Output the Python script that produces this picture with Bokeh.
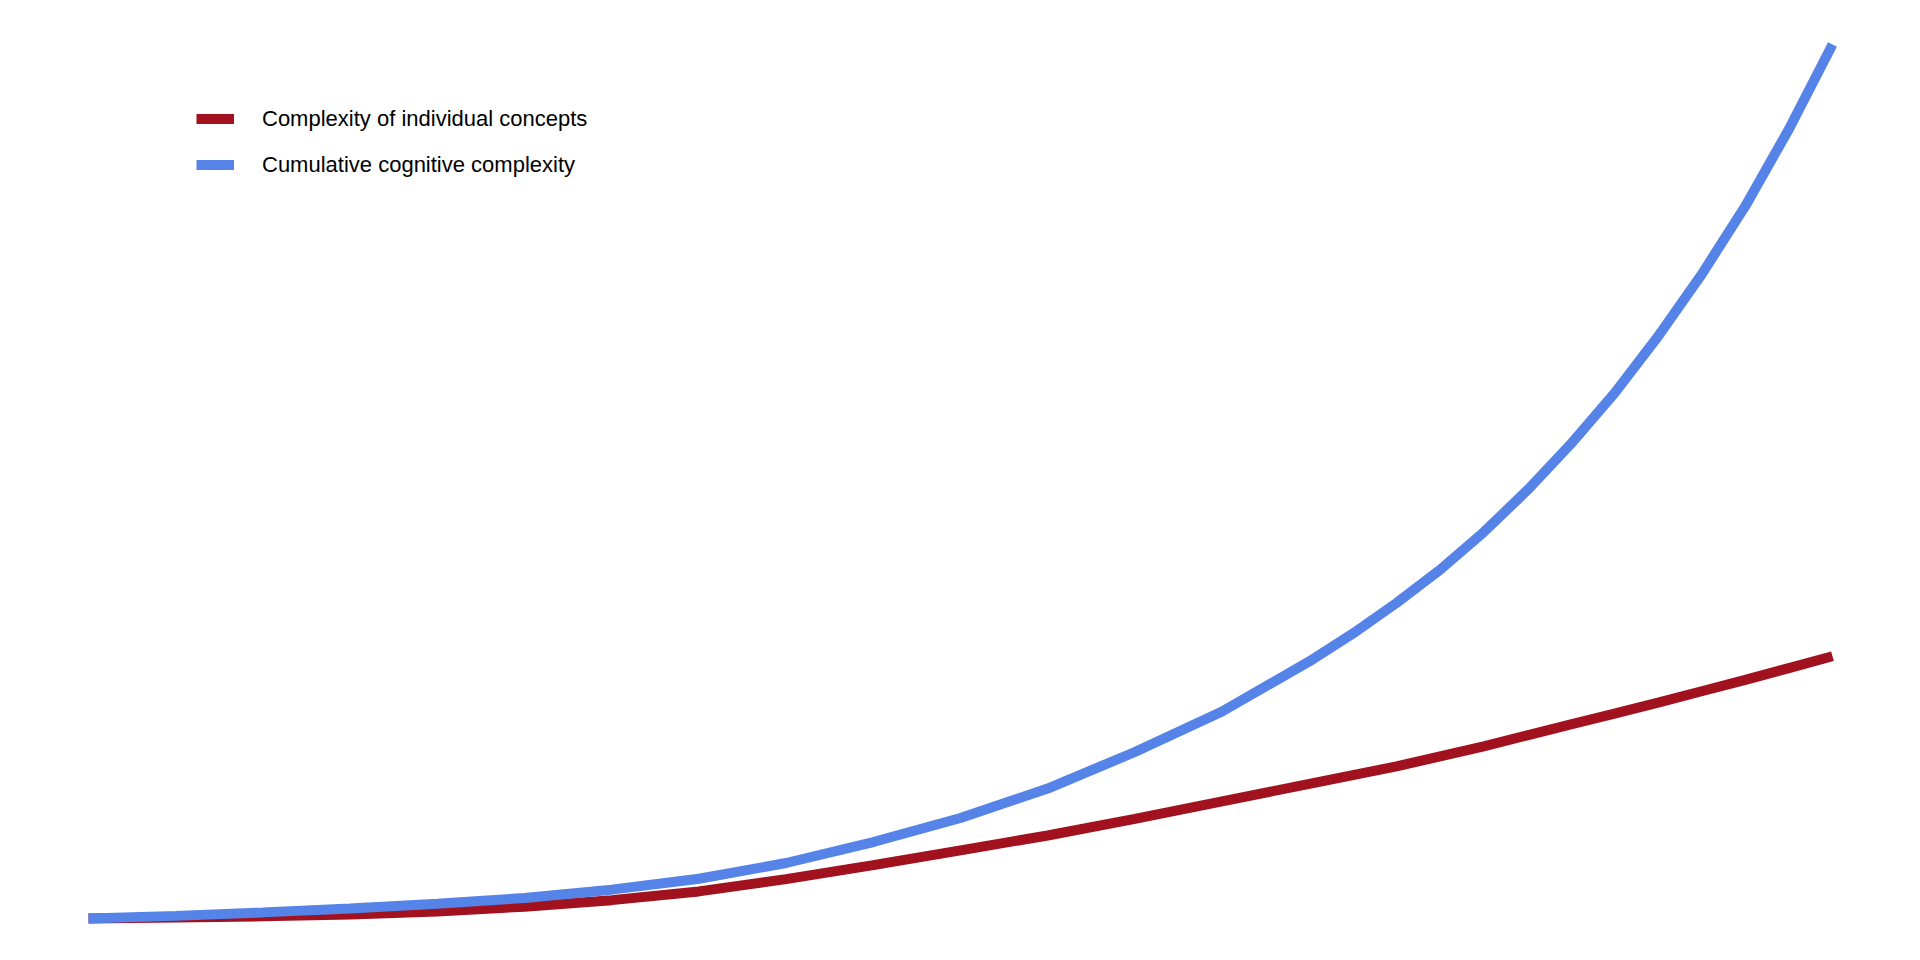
from bokeh.plotting import figure
from bokeh.models import Range1d, Legend, LegendItem
from bokeh.embed import file_html
from bokeh.resources import INLINE

# Progress through the material (0..100) and complexity (0..100, final cumulative = 100)
progress = [0, 5, 10, 15, 20, 25, 30, 35, 40, 45, 50, 55, 60, 65, 70,
            72.5, 75, 77.5, 80, 82.5, 85, 87.5, 90, 92.5, 95, 97.5, 100]
cumulative = [0, 0.3, 0.7, 1.15, 1.7, 2.35, 3.3, 4.55, 6.35, 8.75, 11.5, 14.87, 19.05, 23.68, 29.41,
              32.6, 36.1, 39.9, 44.2, 49.0, 54.3, 60.1, 66.6, 73.7, 81.5, 90.3, 100]
individual = [0, 0.1, 0.25, 0.45, 0.8, 1.35, 2.1, 3.1, 4.5, 6.1, 7.8, 9.5, 11.4, 13.4, 15.4,
              16.4, 17.4, 18.55, 19.7, 20.95, 22.2, 23.45, 24.7, 26.0, 27.3, 28.65, 30.0]

labels = ["Complexity of individual concepts", "Cumulative cognitive complexity"]
colors = ["#a1111e", "#5683e8"]

W, H = 1904, 944
p = figure(width=W, height=H, output_backend="svg", toolbar_location=None,
           min_border=0, x_range=Range1d(-5.046, 104.13),
           y_range=Range1d(-2.975, 105.03))
p.axis.visible = False
p.grid.visible = False
p.outline_line_color = None
p.background_fill_color = "white"
p.border_fill_color = "white"

r1 = p.line(progress, individual, line_color=colors[0], line_width=10)
r2 = p.line(progress, cumulative, line_color=colors[1], line_width=10)

legend = Legend(items=[LegendItem(label=labels[0], renderers=[r1]),
                       LegendItem(label=labels[1], renderers=[r2])],
                location=(196, 764), orientation="vertical",
                border_line_color=None, background_fill_alpha=0,
                padding=0, margin=0, spacing=15,
                glyph_width=38, glyph_height=31, label_height=31,
                label_standoff=28,
                label_text_font="Liberation Sans", label_text_font_size="22px",
                label_text_color="black")
p.add_layout(legend, "center")

open("out.html", "w").write(file_html(p, INLINE))
